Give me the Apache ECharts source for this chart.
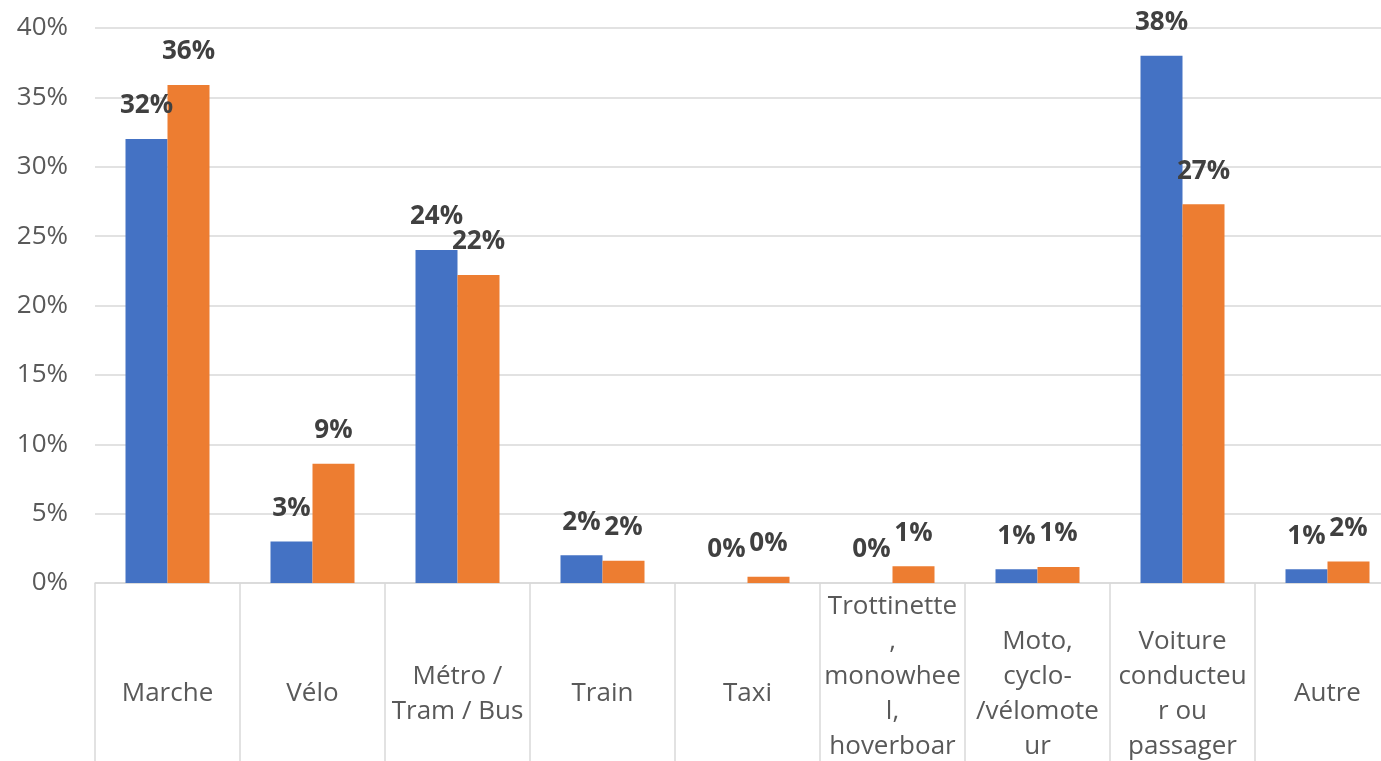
<!DOCTYPE html>
<html>
<head>
<meta charset="utf-8">
<script src="https://cdn.jsdelivr.net/npm/echarts@6/dist/echarts.min.js"></script>
<style>
html,body{margin:0;padding:0;background:#fff;}
#chart{width:1381px;height:761px;}
</style>
</head>
<body>
<div id="chart"></div>
<script>
const categories = [
  "Marche",
  "Vélo",
  "Métro /\nTram / Bus",
  "Train",
  "Taxi",
  "Trottinette\n,\nmonowhee\nl,\nhoverboar\nd",
  "Moto,\ncyclo-\n/vélomote\nur",
  "Voiture\nconducteu\nr ou\npassager",
  "Autre"
];
const seriesBlue = [32.0, 3.0, 24.0, 2.0, 0, 0, 1.0, 38.0, 1.0];
const seriesOrange = [35.9, 8.6, 22.2, 1.6, 0.45, 1.2, 1.15, 27.3, 1.55];
const yTicks = { min: 0, max: 40, interval: 5 };

const FONT = '"Open Sans", sans-serif';
const chart = echarts.init(document.getElementById('chart'));
const labelCfg = {
  show: true,
  position: 'top',
  distance: 20,
  formatter: p => Math.round(p.value) + '%',
  fontFamily: FONT,
  fontWeight: 'bold',
  fontSize: 26,
  color: '#404040'
};
chart.setOption({
  animation: false,
  backgroundColor: '#fff',
  grid: { left: 95, top: 28, bottom: 178, right: -19, containLabel: false, outerBoundsMode: 'none' },
  xAxis: {
    type: 'category',
    data: categories,
    axisLine: { lineStyle: { color: '#d9d9d9', width: 1.5 } },
    axisTick: { show: true, interval: 0, length: 200, lineStyle: { color: '#d9d9d9', width: 1.5 } },
    axisLabel: {
      interval: 0,
      margin: 111,
      verticalAlign: 'middle',
      fontFamily: FONT,
      fontSize: 26,
      lineHeight: 35,
      color: '#595959'
    }
  },
  yAxis: {
    type: 'value',
    min: yTicks.min,
    max: yTicks.max,
    interval: yTicks.interval,
    axisLine: { show: false },
    axisTick: { show: false },
    splitLine: { lineStyle: { color: '#d9d9d9', width: 1.5 } },
    axisLabel: {
      formatter: '{value}%',
      margin: 27,
      fontFamily: FONT,
      fontSize: 26,
      color: '#595959'
    }
  },
  series: [
    { type: 'bar', data: seriesBlue, barWidth: 42, barGap: '0%', itemStyle: { color: '#4472C4' }, label: labelCfg },
    { type: 'bar', data: seriesOrange, barWidth: 42, barGap: '0%', itemStyle: { color: '#ED7D31' }, label: labelCfg }
  ]
});
</script>
</body>
</html>
